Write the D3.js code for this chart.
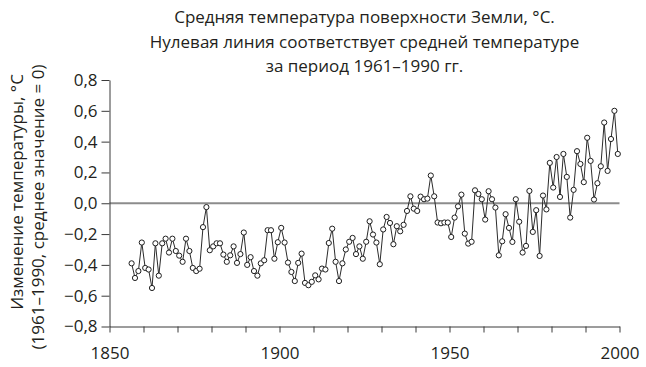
<!DOCTYPE html>
<html>
<head>
<meta charset="utf-8">
<script src="https://cdn.jsdelivr.net/npm/d3@7"></script>
<style>
  html, body { margin: 0; padding: 0; background: #fff; }
  svg { display: block; font-family: "Open Sans", "Noto Sans", sans-serif; }
</style>
</head>
<body>
<svg id="chart" width="646" height="367"></svg>
<script>
// ---- data ----
const titleLines = [
  "Средняя температура поверхности Земли, °C.",
  "Нулевая линия соответствует средней температуре",
  "за период 1961–1990 гг."
];
const yTitleLines = [
  "Изменение температуры, °C",
  "(1961–1990, среднее значение = 0)"
];
const years = [
  1856, 1857, 1858, 1859,
  1860, 1861, 1862, 1863, 1864, 1865, 1866, 1867, 1868, 1869,
  1870, 1871, 1872, 1873, 1874, 1875, 1876, 1877, 1878, 1879,
  1880, 1881, 1882, 1883, 1884, 1885, 1886, 1887, 1888, 1889,
  1890, 1891, 1892, 1893, 1894, 1895, 1896, 1897, 1898, 1899,
  1900, 1901, 1902, 1903, 1904, 1905, 1906, 1907, 1908, 1909,
  1910, 1911, 1912, 1913, 1914, 1915, 1916, 1917, 1918, 1919,
  1920, 1921, 1922, 1923, 1924, 1925, 1926, 1927, 1928, 1929,
  1930, 1931, 1932, 1933, 1934, 1935, 1936, 1937, 1938, 1939,
  1940, 1941, 1942, 1943, 1944, 1945, 1946, 1947, 1948, 1949,
  1950, 1951, 1952, 1953, 1954, 1955, 1956, 1957, 1958, 1959,
  1960, 1961, 1962, 1963, 1964, 1965, 1966, 1967, 1968, 1969,
  1970, 1971, 1972, 1973, 1974, 1975, 1976, 1977, 1978, 1979,
  1980, 1981, 1982, 1983, 1984, 1985, 1986, 1987, 1988, 1989,
  1990, 1991, 1992, 1993, 1994, 1995, 1996, 1997, 1998, 1999
];
const anomalies = [
  -0.39, -0.485, -0.44, -0.255,
  -0.42, -0.43, -0.55, -0.26, -0.47, -0.26, -0.23, -0.32, -0.23, -0.31,
  -0.34, -0.38, -0.23, -0.31, -0.42, -0.44, -0.425, -0.155, -0.025, -0.305,
  -0.28, -0.26, -0.26, -0.333, -0.38, -0.338, -0.28, -0.387, -0.33, -0.19,
  -0.40, -0.35, -0.44, -0.47, -0.39, -0.37, -0.175, -0.175, -0.36, -0.253,
  -0.16, -0.255, -0.385, -0.446, -0.505, -0.387, -0.327, -0.517, -0.532, -0.51,
  -0.468, -0.494, -0.424, -0.43, -0.258, -0.165, -0.38, -0.505, -0.39, -0.30,
  -0.25, -0.225, -0.33, -0.28, -0.36, -0.25, -0.117, -0.203, -0.255, -0.396,
  -0.17, -0.089, -0.128, -0.266, -0.149, -0.182, -0.14, -0.05, 0.045, -0.035,
  -0.05, 0.043, 0.026, 0.03, 0.18, 0.045, -0.125, -0.13, -0.125, -0.125,
  -0.219, -0.093, -0.02, 0.056, -0.197, -0.262, -0.25, 0.084, 0.06, 0.026,
  -0.106, 0.078, 0.026, -0.028, -0.338, -0.247, -0.071, -0.16, -0.251, 0.026,
  -0.12, -0.32, -0.277, 0.08, -0.186, -0.045, -0.342, 0.05, -0.04, 0.262,
  0.102, 0.30, 0.041, 0.32, 0.171, -0.093, 0.087, 0.338, 0.255, 0.137,
  0.425, 0.275, 0.024, 0.13, 0.24, 0.524, 0.21, 0.417, 0.60, 0.32
];
const yTicks = [-0.8, -0.6, -0.4, -0.2, 0.0, 0.2, 0.4, 0.6, 0.8];
const xTicks = [1850, 1860, 1870, 1880, 1890, 1900, 1910, 1920, 1930, 1940, 1950, 1960, 1970, 1980, 1990, 2000];
const xLabels = [1850, 1900, 1950, 2000];

// ---- layout ----
const svg = d3.select("#chart");
const plotLeft = 109.5, plotRight = 619.5, plotTop = 80, plotBottom = 326.5;
const x = d3.scaleLinear().domain([1850, 2000]).range([plotLeft, plotRight]);
const y = d3.scaleLinear().domain([-0.8, 0.8]).range([plotBottom, plotTop]);
const fontSize = 17;
const textColor = "#231f20";
const axisColor = "#3a3a3a";

const fmtY = d => {
  const s = Math.abs(d).toFixed(1).replace(".", ",");
  return (d < -1e-9 ? "\u2212" : "") + s;
};

// title
const cx = (plotLeft + plotRight) / 2;
svg.append("g").selectAll("text").data(titleLines).join("text")
  .attr("x", cx)
  .attr("y", (d, i) => 23 + i * 24.5)
  .attr("text-anchor", "middle")
  .attr("font-size", fontSize)
  .attr("fill", textColor)
  .text(d => d);

// y axis title (rotated)
const yTitleX = [17, 38];
const yTitleY = [192, 207];
yTitleLines.forEach((t, i) => {
  svg.append("text")
    .attr("transform", `translate(${yTitleX[i]},${yTitleY[i]}) rotate(-90)`)
    .attr("text-anchor", "middle")
    .attr("dy", "0.35em")
    .attr("font-size", fontSize)
    .attr("fill", textColor)
    .text(t);
});

// zero line
svg.append("line")
  .attr("x1", x(1850)).attr("x2", x(2000))
  .attr("y1", y(0)).attr("y2", y(0))
  .attr("stroke", "#8c8c8c")
  .attr("stroke-width", 2);

// y axis
const gy = svg.append("g")
  .attr("transform", `translate(${plotLeft},0)`)
  .call(d3.axisLeft(y).tickValues(yTicks).tickFormat(fmtY).tickSize(8).tickSizeOuter(0).tickPadding(4));
gy.attr("font-family", null).attr("font-size", null);
gy.select(".domain").attr("stroke", axisColor);
gy.selectAll(".tick line").attr("stroke", axisColor);
gy.selectAll(".tick text").attr("font-size", fontSize).attr("fill", textColor);

// x axis
const gx = svg.append("g")
  .attr("transform", `translate(0,${plotBottom})`)
  .call(d3.axisBottom(x).tickValues(xTicks)
    .tickFormat(d => xLabels.includes(d) ? String(d) : "")
    .tickSize(6).tickSizeOuter(0).tickPadding(14));
gx.attr("font-family", null).attr("font-size", null);
gx.select(".domain").attr("stroke", axisColor);
gx.selectAll(".tick line").attr("stroke", axisColor);
gx.selectAll(".tick text").attr("font-size", fontSize).attr("fill", textColor);

// series
const data = years.map((yr, i) => ({ year: yr, v: anomalies[i] }));
const px = d => x(d.year + 0.5);
svg.append("path")
  .datum(data)
  .attr("fill", "none")
  .attr("stroke", "#2b2b2b")
  .attr("stroke-width", 1)
  .attr("d", d3.line().x(px).y(d => y(d.v)));

svg.append("g").selectAll("circle").data(data).join("circle")
  .attr("cx", px)
  .attr("cy", d => y(d.v))
  .attr("r", 2.6)
  .attr("fill", "#fff")
  .attr("stroke", "#1e1e1e")
  .attr("stroke-width", 1);
</script>
</body>
</html>
